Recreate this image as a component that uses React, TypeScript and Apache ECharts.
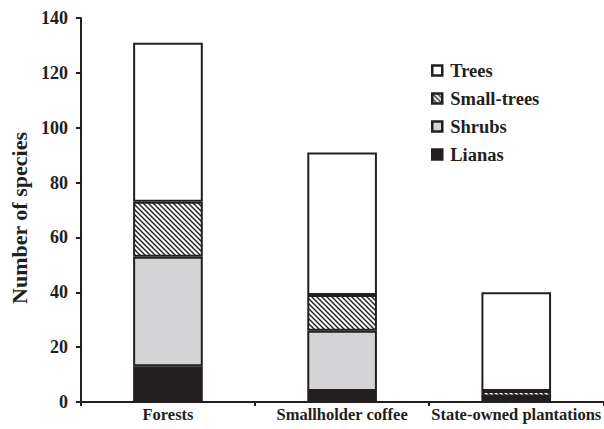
import React, { useEffect, useRef } from "react";
import * as echarts from "echarts";

const categories = ["Forests", "Smallholder coffee", "State-owned plantations"];
const lianas = [13, 4, 2];
const shrubs = [40, 22, 0];
const smallTrees = [20, 13, 2];
const trees = [58, 52, 36];
const yTicks = [0, 20, 40, 60, 80, 100, 120, 140];

const INK = "#231f20";
const FONT = "'Liberation Serif', 'Times New Roman', serif";

function makeHatch(): HTMLCanvasElement {
  const s = 5;
  const c = document.createElement("canvas");
  c.width = s;
  c.height = s;
  const ctx = c.getContext("2d")!;
  ctx.fillStyle = "#ffffff";
  ctx.fillRect(0, 0, s, s);
  ctx.strokeStyle = INK;
  ctx.lineWidth = 1.4;
  ctx.beginPath();
  ctx.moveTo(-1, -1);
  ctx.lineTo(s + 1, s + 1);
  ctx.moveTo(-1, s - 1);
  ctx.lineTo(1, s + 1);
  ctx.moveTo(s - 1, -1);
  ctx.lineTo(s + 1, 1);
  ctx.stroke();
  return c;
}

export default function App() {
  const ref = useRef<HTMLDivElement>(null);
  useEffect(() => {
    if (!ref.current) return;
    const chart = echarts.init(ref.current, null, { renderer: "svg" });
    const hatch = { image: makeHatch(), repeat: "repeat" };
    const base = {
      type: "bar",
      stack: "total",
      barWidth: "40%",
      itemStyle: { borderColor: INK, borderWidth: 2 },
    };
    chart.setOption({
      animation: false,
      grid: { left: 80, right: 0, top: 18, bottom: 27 },
      legend: {
        orient: "vertical",
        left: 426,
        top: 56,
        icon: "rect",
        itemWidth: 10,
        itemHeight: 10,
        itemGap: 9,
        data: ["Trees", "Small-trees", "Shrubs", "Lianas"],
        itemStyle: { borderWidth: 2.5, borderColor: INK },
        textStyle: { fontFamily: FONT, fontWeight: "bold", fontSize: 18.5, lineHeight: 18, color: INK, padding: [0, 0, 0, 3] },
      },
      xAxis: {
        type: "category",
        data: categories,
        axisLine: { lineStyle: { color: INK, width: 2 } },
        axisTick: { show: true, length: 4, lineStyle: { color: INK, width: 2 } },
        axisLabel: { fontFamily: FONT, fontWeight: "bold", fontSize: 16.5, color: INK, margin: 4, interval: 0 },
      },
      yAxis: {
        type: "value",
        min: 0,
        max: yTicks[yTicks.length - 1],
        interval: 20,
        name: "Number of species",
        nameLocation: "middle",
        nameGap: 48,
        nameRotate: 90,
        nameTextStyle: { fontFamily: FONT, fontWeight: "bold", fontSize: 22, color: INK, padding: [0, 16, 0, 0] },
        splitLine: { show: false },
        axisLine: { show: true, lineStyle: { color: INK, width: 2 } },
        axisTick: { show: true, length: 5, lineStyle: { color: INK, width: 2 } },
        axisLabel: { fontFamily: FONT, fontWeight: "bold", fontSize: 18, color: INK, margin: 13 },
      },
      series: [
        { ...base, name: "Lianas", data: lianas, itemStyle: { ...base.itemStyle, color: INK } },
        { ...base, name: "Shrubs", data: shrubs, itemStyle: { ...base.itemStyle, color: "#d4d4d6" } },
        { ...base, name: "Small-trees", data: smallTrees, itemStyle: { ...base.itemStyle, color: hatch } },
        { ...base, name: "Trees", data: trees, itemStyle: { ...base.itemStyle, color: "#ffffff" } },
      ],
    });
    return () => chart.dispose();
  }, []);
  return <div ref={ref} style={{ width: 604, height: 429, position: "absolute", left: 0, top: 0, background: "#fff" }} />;
}
